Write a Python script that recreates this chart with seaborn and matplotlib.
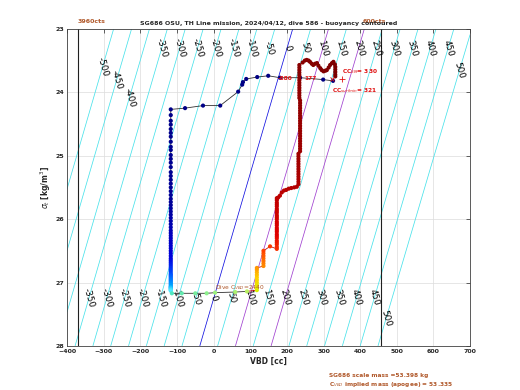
import numpy as np
import matplotlib
matplotlib.use("Agg")
import matplotlib.pyplot as plt
from matplotlib.colors import LinearSegmentedColormap
import seaborn as sns

# numbers printed on the plot
scale_mass = 53.398      # kg
implied_mass = 53.335    # kg, from C_VBD at apogee
dive_cvbd = 2440
cc_sm = 330
cc_surfmin = 321
vol0 = 51920.0           # cc displaced at VBD = 0 (estimated from where the 0 g contour sits)

# VBD travel limits (cc) and their A/D counts
vbd_lo, vbd_hi = -370, 457
cts_lo, cts_hi = "3960cts", "600cts"

# buoyancy contour levels [g]
levels = list(range(-500, 501, 50))
top_label_sigma = [23.6, 23.8, 24.09] + [23.3] * 17 + [23.65]
bottom_levels = levels[3:]
bottom_label_sigma = [27.24] * 16 + [27.23, 27.57]

# surface / start of dive, then the descent at fixed VBD
dive_vbd = [326, 299, 236, 181, 149, 119, 89, 80, 78, 67, 18, -29, -78, -117]
dive_sigma = [23.82, 23.80, 23.77, 23.77, 23.74, 23.76, 23.79, 23.84, 23.88, 23.99,
              24.21, 24.21, 24.25, 24.27]
descent_sigma = [24.36, 24.45, 24.51, 24.58, 24.64, 24.70, 24.78, 24.86, 24.91, 24.99,
                 25.05, 25.11, 25.18, 25.26, 25.32, 25.38, 25.44, 25.50, 25.56, 25.62,
                 25.68, 25.73, 25.78, 25.83, 25.88, 25.93, 25.98, 26.03, 26.08, 26.13,
                 26.18, 26.22, 26.26, 26.30, 26.34, 26.38, 26.42, 26.46, 26.50, 26.54,
                 26.58, 26.62, 26.65, 26.68, 26.71, 26.74, 26.77, 26.80, 26.83, 26.86,
                 26.88, 26.90, 26.92, 26.94, 26.96, 26.98, 27.00, 27.02, 27.04, 27.06,
                 27.07, 27.08, 27.09, 27.10, 27.11, 27.12, 27.13]
descent_vbd = -117

# apogee pumping
apo_vbd = [-114, -87, -50, -19, 4, 59, 91]
apo_sigma = [27.17, 27.17, 27.17, 27.17, 27.16, 27.15, 27.14]

# climb
climb_vbd = ([118] * 10 + [136] * 7 + [154] + [172.5] * 25
             + [176, 181, 186, 192, 198, 205, 212, 220, 227]
             + [231.5] * 13 + [236] * 21 + [234] * 14
             + [243, 249, 254, 259, 263, 268, 272, 277, 282, 286, 291, 295, 300,
                305, 309, 314, 318, 323, 327, 331, 332, 332, 332, 332, 332])
climb_sigma = ([27.12, 27.08, 27.04, 27.00, 26.96, 26.92, 26.88, 26.84, 26.80, 26.77]
               + [26.74, 26.70, 26.66, 26.62, 26.58, 26.54, 26.50]
               + [26.43]
               + [26.47, 26.44, 26.40, 26.37, 26.34, 26.30, 26.27, 26.24, 26.20, 26.17,
                  26.14, 26.10, 26.07, 26.04, 26.00, 25.97, 25.94, 25.90, 25.87, 25.84,
                  25.80, 25.77, 25.74, 25.70, 25.67]
               + [25.66, 25.63, 25.58, 25.55, 25.54, 25.52, 25.51, 25.50, 25.49]
               + [25.45, 25.41, 25.37, 25.33, 25.29, 25.25, 25.21, 25.17, 25.13, 25.09,
                  25.05, 25.01, 24.97]
               + [24.93, 24.89, 24.85, 24.81, 24.77, 24.73, 24.69, 24.65, 24.61, 24.57,
                  24.53, 24.49, 24.45, 24.41, 24.37, 24.33, 24.29, 24.25, 24.21, 24.17,
                  24.13]
               + [24.09, 24.05, 24.01, 23.97, 23.93, 23.89, 23.85, 23.81, 23.77, 23.73,
                  23.69, 23.65, 23.61, 23.57]
               + [23.53, 23.50, 23.49, 23.50, 23.52, 23.55, 23.57, 23.55, 23.54, 23.58,
                  23.62, 23.65, 23.67, 23.66, 23.65, 23.61, 23.57, 23.54, 23.52, 23.56,
                  23.60, 23.64, 23.68, 23.72, 23.75])

# surface markers
surf_min_vbd, sm_vbd, marker_sigma = 322, 351, 23.79
# small red notes next to the climb column near the surface
note_left, note_right = "-880", "177"
note_left_vbd, note_right_vbd, note_sigma = 176, 248, 23.78

brown = "#b0582a"
red = "#e01010"

all_vbd = dive_vbd + [descent_vbd] * len(descent_sigma)
all_sigma = dive_sigma + descent_sigma

dive_cmap = LinearSegmentedColormap.from_list(
    "dive", [(0, "#000080"), (0.45, "#000099"), (0.69, "#0000dd"),
             (0.8, "#0050ff"), (0.92, "#00a8ff"), (1.0, "#50e8ff")])
apo_cmap = LinearSegmentedColormap.from_list("apo", ["#4fe8c0", "#8cf08c", "#b8f060"])
climb_cmap = LinearSegmentedColormap.from_list(
    "climb", [(0, "#d8f000"), (0.04, "#ffd000"), (0.075, "#ff9000"), (0.13, "#ff4000"),
              (0.2, "#e00000"), (0.34, "#c00000"), (0.5, "#a00000"), (1.0, "#7a0000")])

sns.set_style("white")
plt.rcParams["font.family"] = ["DejaVu Sans"]

fig = plt.figure(figsize=(5.2, 3.9), dpi=100)
ax = fig.add_axes([0.129, 0.113, 0.775, 0.813])

# buoyancy field
vv, ss = np.meshgrid(np.linspace(-400, 700, 221), np.linspace(23, 28, 101))
buoy = (1 + ss / 1000.0) * (vol0 + vv) - implied_mass * 1000.0
level_colors = []
for lv in levels:
    if lv == 0:
        level_colors.append("#1010e0")
    elif lv in (100, 200):
        level_colors.append("#a040d0")
    else:
        level_colors.append("#48e2ea")
cs = ax.contour(vv, ss, buoy, levels=levels, colors=level_colors, linewidths=0.55, zorder=1)


def vbd_at(b, sig):
    return (implied_mass * 1000.0 + b) / (1 + sig / 1000.0) - vol0


spots = [(vbd_at(b, s), s) for b, s in zip(levels, top_label_sigma)]
spots += [(vbd_at(b, s), s) for b, s in zip(bottom_levels, bottom_label_sigma)]
ax.clabel(cs, inline=False, manual=spots, fmt="%d", fontsize=6.3, colors="black")

# VBD limits
for v in (vbd_lo, vbd_hi):
    ax.axvline(v, color="#202020", lw=0.8, zorder=2)
ax.text(vbd_lo, 1.022, cts_lo, transform=ax.get_xaxis_transform(), color=brown,
        fontsize=4.5, fontweight="bold", ha="left", va="center")
ax.text(408, 1.022, cts_hi, transform=ax.get_xaxis_transform(), color=brown,
        fontsize=4.5, fontweight="bold", ha="left", va="center")

# connecting line
ax.plot(all_vbd + apo_vbd, all_sigma + apo_sigma, color="#303030", lw=0.6, zorder=3)
ax.plot([apo_vbd[-1]] + climb_vbd, [apo_sigma[-1]] + climb_sigma, color="#c01010", lw=0.6, zorder=3)

sns.scatterplot(x=all_vbd, y=all_sigma, hue=list(range(len(all_vbd))), palette=dive_cmap,
                s=9, linewidth=0, legend=False, ax=ax, zorder=4)
sns.scatterplot(x=apo_vbd, y=apo_sigma, hue=list(range(len(apo_vbd))), palette=apo_cmap,
                s=9, linewidth=0, legend=False, ax=ax, zorder=4)
sns.scatterplot(x=climb_vbd, y=climb_sigma, hue=list(range(len(climb_vbd))), palette=climb_cmap,
                s=9, linewidth=0, legend=False, ax=ax, zorder=4)

# surface markers and labels
ax.plot([surf_min_vbd], [marker_sigma], marker="x", color=red, ms=3, mew=0.6, zorder=5)
ax.plot([sm_vbd], [marker_sigma], marker="+", color=red, ms=5, mew=0.6, zorder=5)
ax.text(sm_vbd, 23.68, r"CC$_{SM}$= %d" % cc_sm, color=red, fontsize=4.2,
        fontweight="bold", ha="left", va="center", zorder=6)
ax.text(surf_min_vbd, 23.98, r"CC$_{surfmin}$= %d" % cc_surfmin, color=red, fontsize=4.2,
        fontweight="bold", ha="left", va="center", zorder=6)
ax.text(note_left_vbd, note_sigma, note_left, color=red, fontsize=4.2,
        fontweight="bold", ha="left", va="center", zorder=6)
ax.text(note_right_vbd, note_sigma, note_right, color=red, fontsize=4.2,
        fontweight="bold", ha="left", va="center", zorder=6)
ax.text(4, 27.155, r"Dive C$_{VBD}$=%d" % dive_cvbd, color=brown, fontsize=4.2,
        ha="left", va="bottom", zorder=6)

ax.set_xlim(-400, 700)
ax.set_ylim(28, 23)
ax.set_xticks(range(-400, 701, 100))
ax.set_yticks(range(23, 29))
ax.grid(True, color="#dcdcdc", lw=0.5)
ax.set_axisbelow(True)
ax.tick_params(direction="in", top=True, right=True, length=3, width=0.5,
               labelsize=4.5, pad=2)
for lab in ax.get_xticklabels() + ax.get_yticklabels():
    lab.set_fontweight("bold")
for sp in ax.spines.values():
    sp.set_color("#404040")
    sp.set_linewidth(0.6)

ax.set_xlabel("VBD [cc]", fontsize=5.5, fontweight="bold", labelpad=2)
ax.set_ylabel(r"$\sigma_t$ [kg/m$^3$]", fontsize=5.5, fontweight="bold", labelpad=2)
ax.set_title("SG686 OSU, TH Line mission, 2024/04/12, dive 586 - buoyancy contoured",
             fontsize=4.5, fontweight="bold", pad=3)

fig.text(0.633, 0.038, "SG686 scale mass =%.3f kg" % scale_mass, color=brown,
         fontsize=4.2, fontweight="bold", ha="left", va="center")
fig.text(0.633, 0.014, r"C$_{VBD}$ implied mass (apogee) = %.3f" % implied_mass, color=brown,
         fontsize=4.2, fontweight="bold", ha="left", va="center")

fig.savefig("out.png", dpi=100)
